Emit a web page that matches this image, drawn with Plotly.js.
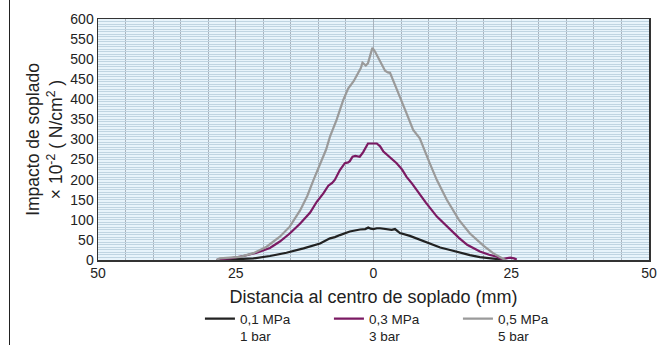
<!DOCTYPE html>
<html>
<head>
<meta charset="utf-8">
<script src="https://cdn.plot.ly/plotly-3.0.1.min.js"></script>
<style>
html,body{margin:0;padding:0;background:#fff;}
#wrap{position:relative;width:657px;height:345px;}
#chart{width:657px;height:345px;}
#edge{position:absolute;left:9px;top:0;width:1px;height:345px;background:#222;}
</style>
</head>
<body>
<div id="wrap"><div id="chart"></div><div id="edge"></div></div>
<script>
// Distance from blow centre (mm)
const xTicks = [-50, -25, 0, 25, 50];
const xTickText = ["50", "25", "0", "25", "50"];
const yTicks = [0, 50, 100, 150, 200, 250, 300, 350, 400, 450, 500, 550, 600];

const seriesNames = ["0,1 MPa<br>1 bar", "0,3 MPa<br>3 bar", "0,5 MPa<br>5 bar"];

const x01 = [-28, -27.3, -24.8, -21.8, -18.8, -15.8, -12.7, -9.7, -7.9, -7, -6.1, -4.3, -2.45, -1.5, -0.95, -0.5, 0, 0.6, 1.2, 2, 2.7, 3.3, 3.9, 4.8, 6.6, 8.4, 10.3, 12.1, 13.9, 15.7, 17.5, 19.3, 21, 22.4, 23.5, 24];
const y01 = [0, 1, 2, 4, 10, 18, 29, 41, 54, 57, 62, 71, 76, 77, 81, 78, 77, 79, 79, 77, 75, 75, 77, 67, 60, 50, 40, 31, 25, 18, 12, 7, 4, 3, 1, 0];

const x03 = [-28.5, -27.9, -26, -23.6, -21.2, -18.8, -17, -15.2, -13.3, -11.5, -10.3, -9.1, -8.2, -7.5, -7, -6.1, -5.2, -4.6, -4.3, -3.8, -3.3, -2.5, -1.9, -1, 0.6, 1.2, 1.8, 3, 4.2, 5.2, 6, 7, 7.8, 9.5, 11.5, 13.3, 15.5, 17, 19.3, 21, 22.4, 23.3, 24.2, 24.8, 25.5, 26];
const y03 = [0, 2, 4, 10, 18, 30, 46, 66, 91, 118, 145, 166, 185, 192, 200, 224, 241, 243, 246, 257, 259, 257, 268, 290, 290, 283, 270, 256, 241, 225, 207, 190, 174, 143, 108, 83, 55, 38, 21, 13, 8, 2, 4, 6, 4, 1];

const x05 = [-28.5, -27.9, -26, -24.2, -21.8, -19.4, -17, -15.2, -13.3, -12, -10.9, -9.7, -8.6, -7.9, -6.7, -5.5, -4.6, -3.6, -2.75, -2.3, -2.0, -1.7, -1.4, -1, -0.5, -0.2, 0.27, 0.8, 1.2, 2.1, 2.6, 3.0, 3.9, 4.8, 6.0, 7.2, 8.4, 10.2, 11.5, 13.3, 15.5, 17.5, 18.7, 20, 21.7, 23, 23.5, 24];
const y05 = [0, 4, 6, 8, 17, 33, 58, 83, 124, 160, 199, 241, 275, 307, 349, 398, 427, 445, 466, 478, 491, 488, 484, 490, 515, 528, 519, 505, 498, 471, 467, 466, 436, 407, 365, 324, 303, 241, 199, 150, 100, 66, 50, 35, 17, 6, 3, 0];

const colors = ["#222222", "#7b1a63", "#9a9a9a"];
const FONT = "Liberation Sans, Arial, sans-serif";

const traces = [
  {x: x01, y: y01, name: seriesNames[0], type: "scatter", mode: "lines", line: {color: colors[0], width: 2.2}},
  {x: x03, y: y03, name: seriesNames[1], type: "scatter", mode: "lines", line: {color: colors[1], width: 2.2}},
  {x: x05, y: y05, name: seriesNames[2], type: "scatter", mode: "lines", line: {color: colors[2], width: 2.2}}
];

const layout = {
  width: 657, height: 345,
  margin: {l: 98, r: 8, t: 19, b: 85, autoexpand: false},
  paper_bgcolor: "#ffffff",
  plot_bgcolor: "#e8f4fb",
  font: {family: FONT, size: 14, color: "#222"},
  showlegend: true,
  legend: {
    orientation: "h", x: 0.185, xanchor: "left", y: -0.18, yanchor: "top",
    entrywidth: 84, entrywidthmode: "pixels",
    font: {family: FONT, size: 13.5, color: "#222"},
    bgcolor: "rgba(0,0,0,0)", traceorder: "normal", valign: "top",
    tracegroupgap: 0
  },
  xaxis: {
    range: [-50, 50], tickvals: xTicks, ticktext: xTickText,
    showgrid: true, gridcolor: "#a9b3bd", gridwidth: 1,
    minor: {dtick: 5, showgrid: true, gridcolor: "#a9b3bd", gridwidth: 1},
    zeroline: false, showline: true, linecolor: "#333", linewidth: 1.5, mirror: true,
    ticks: "", tickfont: {family: FONT, size: 14, color: "#222"},
    title: {text: "Distancia al centro de soplado (mm)", font: {family: FONT, size: 18, color: "#222"}, standoff: 10},
    automargin: false, fixedrange: true
  },
  yaxis: {
    range: [0, 600], tickvals: yTicks,
    showgrid: true, gridcolor: "#c0d5e2", gridwidth: 1,
    minor: {dtick: 6.25, showgrid: true, gridcolor: "#c0d5e2", gridwidth: 1},
    zeroline: false, showline: true, linecolor: "#333", linewidth: 1.5, mirror: true,
    ticks: "", tickfont: {family: FONT, size: 14, color: "#222"},
    title: {text: "Impacto de soplado<br>× 10<sup>-2</sup> ( N/cm<sup>2</sup> )", font: {family: FONT, size: 17.5, color: "#222"}, standoff: 3},
    automargin: false, fixedrange: true
  }
};

Plotly.newPlot("chart", traces, layout, {displayModeBar: false, staticPlot: true});
</script>
</body>
</html>
